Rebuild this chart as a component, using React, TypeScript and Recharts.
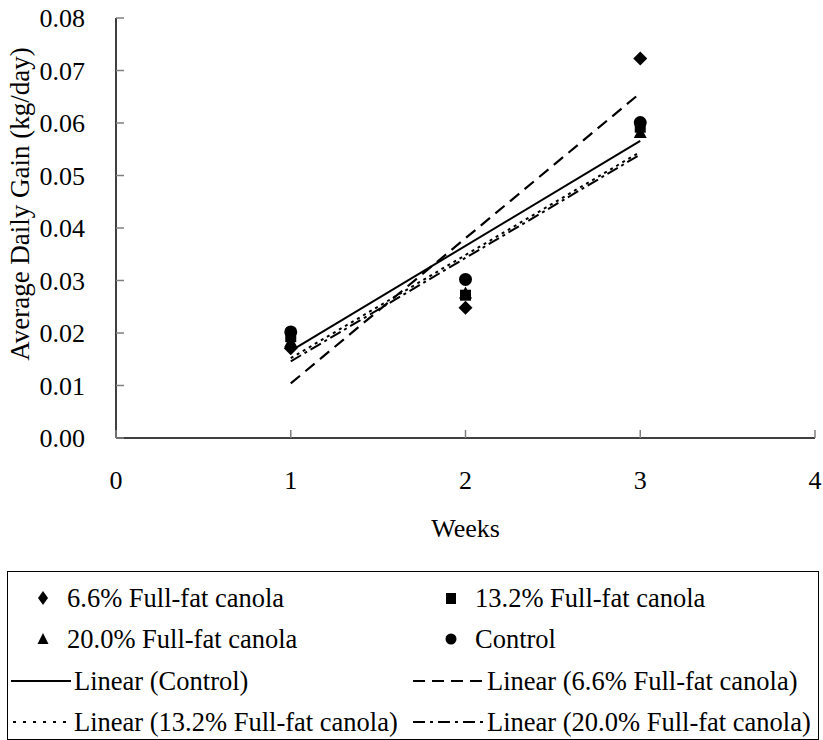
import React from "react";
import { ComposedChart, Scatter, Line, XAxis, YAxis, Label } from "recharts";

const FONT = '"Liberation Serif", "Times New Roman", Tinos, "DejaVu Serif", serif';
const TICK_FS = 26;
const TITLE_FS = 27;
const LEGEND_FS = 26.5;

const WEEKS = [1, 2, 3];
const X_TICKS = [0, 1, 2, 3, 4];
const Y_TICKS = [0, 0.01, 0.02, 0.03, 0.04, 0.05, 0.06, 0.07, 0.08];

// observed averages per week
const CANOLA_66 = [0.0171, 0.0248, 0.0723];
const CANOLA_132 = [0.0193, 0.0272, 0.0592];
const CANOLA_200 = [0.0185, 0.0277, 0.0583];
const CONTROL = [0.0202, 0.0302, 0.0601];

// linear trend end points (week 1 and week 3)
const TREND_WEEKS = [1, 3];
const TREND_CONTROL = [0.0166, 0.0566];
const TREND_66 = [0.0104, 0.0657];
const TREND_132 = [0.0152, 0.0545];
const TREND_200 = [0.0146, 0.054];

const toPoints = (xs: number[], ys: number[]) =>
  xs.map((week, i) => ({ week, value: ys[i] }));

const Diamond = (p: any) => (
  <path
    d={`M${p.cx},${p.cy - 7}L${p.cx + 7},${p.cy}L${p.cx},${p.cy + 7}L${p.cx - 7},${p.cy}Z`}
    fill="#000"
  />
);
const Square = (p: any) => <rect x={p.cx - 5.5} y={p.cy - 5.5} width={11} height={11} fill="#000" />;
const Triangle = (p: any) => (
  <path d={`M${p.cx},${p.cy - 6}L${p.cx + 6.5},${p.cy + 6}L${p.cx - 6.5},${p.cy + 6}Z`} fill="#000" />
);
const Dot = (p: any) => <circle cx={p.cx} cy={p.cy} r={6.5} fill="#000" />;

const XTick = (p: any) => (
  <g>
    <line x1={p.x} y1={p.y} x2={p.x} y2={p.y - 8} stroke="#808080" strokeWidth={1.5} />
    <text x={p.x} y={p.y + 51} textAnchor="middle" style={{ fontFamily: FONT }} fontSize={TICK_FS} fill="#000">
      {p.payload.value}
    </text>
  </g>
);

const YTick = (p: any) => (
  <g>
    <line x1={p.x} y1={p.y} x2={p.x + 8} y2={p.y} stroke="#808080" strokeWidth={1.5} />
    <text x={p.x - 31} y={p.y + 9} textAnchor="end" style={{ fontFamily: FONT }} fontSize={TICK_FS} fill="#000">
      {Number(p.payload.value).toFixed(2)}
    </text>
  </g>
);

const renderYTitle = (p: any) => {
  const vb = p.viewBox || { y: 18, height: 420 };
  const cx = 20;
  const cy = vb.y + vb.height / 2 - 24;
  return (
    <text
      x={cx}
      y={cy}
      transform={`rotate(-90, ${cx}, ${cy})`}
      textAnchor="middle"
      dominantBaseline="central"
      style={{ fontFamily: FONT }}
      fontSize={TITLE_FS}
      fill="#000"
    >
      Average Daily Gain (kg/day)
    </text>
  );
};

const renderXTitle = (p: any) => {
  const vb = p.viewBox || { x: 116, width: 700, y: 438 };
  return (
    <text
      x={vb.x + vb.width / 2}
      y={vb.y + 99}
      textAnchor="middle"
      style={{ fontFamily: FONT }}
      fontSize={TICK_FS}
      fill="#000"
    >
      Weeks
    </text>
  );
};

const markerIcon = (kind: string) => {
  if (kind === "diamond") return <path d="M8,4L13,11L8,18L3,11Z" fill="#000" />;
  if (kind === "square") return <rect x={3} y={6} width={10} height={11} fill="#000" />;
  if (kind === "triangle") return <path d="M8,5L13.5,16L2.5,16Z" fill="#000" />;
  return <circle cx={8} cy={11} r={5.5} fill="#000" />;
};

const LegendMarker = ({ left, cy, kind, text }: any) => (
  <div style={{ position: "absolute", left, top: cy - 16, display: "flex", alignItems: "center", height: 32 }}>
    <svg width={16} height={22} style={{ marginRight: 16 }}>
      {markerIcon(kind)}
    </svg>
    <span>{text}</span>
  </div>
);

const LegendLine = ({ left, cy, dash, width, text }: any) => (
  <div style={{ position: "absolute", left, top: cy - 16, display: "flex", alignItems: "center", height: 32 }}>
    <svg width={width} height={22} style={{ marginRight: 3 }}>
      <line x1={0} y1={11} x2={width} y2={11} stroke="#000" strokeWidth={2} strokeDasharray={dash} />
    </svg>
    <span>{text}</span>
  </div>
);

export default function App() {
  return (
    <div style={{ position: "absolute", left: 0, top: 0, width: 823, height: 740, background: "#fff" }}>
      <ComposedChart width={823} height={560} margin={{ top: 18, right: 8, bottom: 22, left: 0 }}>
        <XAxis
          type="number"
          dataKey="week"
          domain={[0, 4]}
          ticks={X_TICKS}
          interval={0}
          height={100}
          tickSize={0}
          tickMargin={0}
          tickLine={false}
          axisLine={{ stroke: "#000", strokeWidth: 1.5 }}
          tick={XTick}
        >
          <Label content={renderXTitle} />
        </XAxis>
        <YAxis
          type="number"
          domain={[0, 0.08]}
          ticks={Y_TICKS}
          interval={0}
          width={116}
          tickSize={0}
          tickMargin={0}
          tickLine={false}
          axisLine={{ stroke: "#000", strokeWidth: 1.5 }}
          tick={YTick}
        >
          <Label content={renderYTitle} />
        </YAxis>
        <Line
          data={toPoints(TREND_WEEKS, TREND_66)}
          dataKey="value"
          type="linear"
          stroke="#000"
          strokeWidth={2.2}
          strokeDasharray="12 7"
          dot={false}
          activeDot={false}
          isAnimationActive={false}
        />
        <Line
          data={toPoints(TREND_WEEKS, TREND_132)}
          dataKey="value"
          type="linear"
          stroke="#000"
          strokeWidth={2}
          strokeDasharray="3 4"
          dot={false}
          activeDot={false}
          isAnimationActive={false}
        />
        <Line
          data={toPoints(TREND_WEEKS, TREND_200)}
          dataKey="value"
          type="linear"
          stroke="#000"
          strokeWidth={2}
          strokeDasharray="12 4 3 4"
          dot={false}
          activeDot={false}
          isAnimationActive={false}
        />
        <Line
          data={toPoints(TREND_WEEKS, TREND_CONTROL)}
          dataKey="value"
          type="linear"
          stroke="#000"
          strokeWidth={2}
          dot={false}
          activeDot={false}
          isAnimationActive={false}
        />
        <Scatter data={toPoints(WEEKS, CANOLA_66)} dataKey="value" shape={Diamond} isAnimationActive={false} />
        <Scatter data={toPoints(WEEKS, CANOLA_132)} dataKey="value" shape={Square} isAnimationActive={false} />
        <Scatter data={toPoints(WEEKS, CANOLA_200)} dataKey="value" shape={Triangle} isAnimationActive={false} />
        <Scatter data={toPoints(WEEKS, CONTROL)} dataKey="value" shape={Dot} isAnimationActive={false} />
      </ComposedChart>

      <div
        style={{
          position: "absolute",
          left: 7,
          top: 571,
          width: 810,
          height: 167,
          border: "1px solid #000",
          fontFamily: FONT,
          fontSize: LEGEND_FS,
          color: "#000",
          whiteSpace: "nowrap",
        }}
      >
        <LegendMarker left={27} cy={26} kind="diamond" text="6.6% Full-fat canola" />
        <LegendMarker left={435} cy={26} kind="square" text="13.2% Full-fat canola" />
        <LegendMarker left={27} cy={67} kind="triangle" text="20.0% Full-fat canola" />
        <LegendMarker left={435} cy={67} kind="circle" text="Control" />
        <LegendLine left={3} cy={109} width={60} text="Linear (Control)" />
        <LegendLine left={405} cy={109} width={71} dash="12 7" text="Linear (6.6% Full-fat canola)" />
        <LegendLine left={5} cy={150} width={58} dash="3 7" text="Linear (13.2% Full-fat canola)" />
        <LegendLine left={405} cy={150} width={71} dash="12 5 3 5" text="Linear (20.0% Full-fat canola)" />
      </div>
    </div>
  );
}
